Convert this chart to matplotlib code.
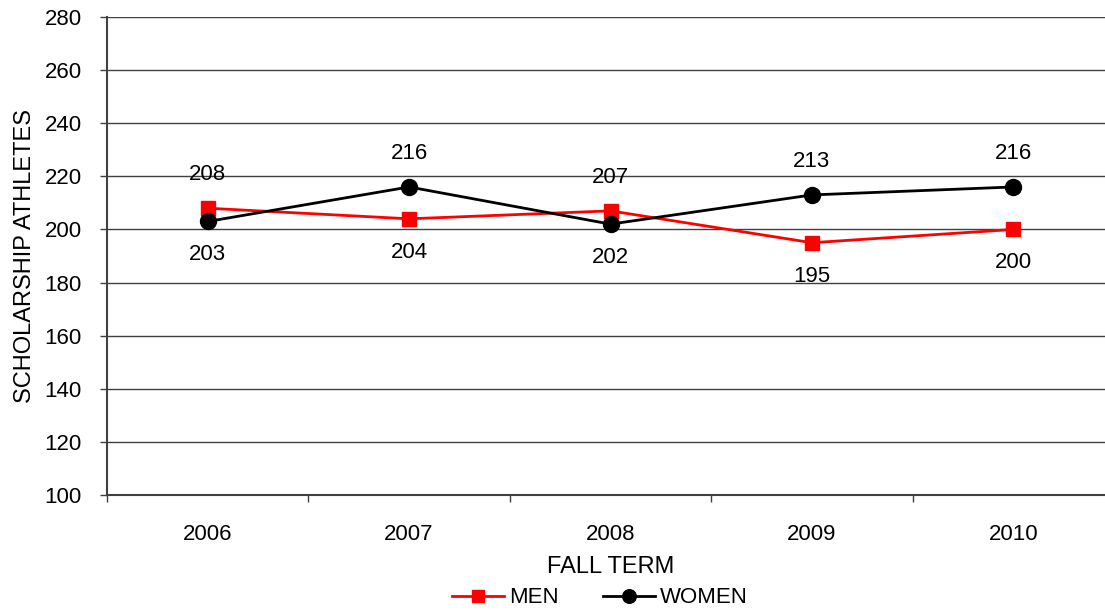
import matplotlib
matplotlib.use('Agg')
import matplotlib.pyplot as plt
import numpy as np

plt.rcParams['font.family'] = ['Liberation Sans', 'DejaVu Sans']

# data
years = ['2006', '2007', '2008', '2009', '2010']
men = [208, 204, 207, 195, 200]
women = [203, 216, 202, 213, 216]

fig = plt.figure(figsize=(11.05, 6.10), dpi=100)
# axes runs a bit past the right edge, like the original
ax = fig.add_axes([107 / 1105, 115 / 610, 1007 / 1105, 478 / 610])

x = np.arange(len(years))
ax.plot(x, men, color='#ff0000', lw=2, marker='s', ms=10.5, label='MEN', zorder=3)
ax.plot(x, women, color='black', lw=2, marker='o', ms=11.5, label='WOMEN', zorder=4)

# value labels: higher series above, lower series below
for i in range(len(years)):
    for v, other in ((men[i], women[i]), (women[i], men[i])):
        dy = 24 if v >= other else -24
        ax.annotate(str(v), (x[i], v), xytext=(0, dy), textcoords='offset points',
                    ha='center', va='center', fontsize=16)

ax.set_xlim(-0.5, 4.5)
ax.set_ylim(100, 280)
ax.set_yticks(np.arange(100, 281, 20))
ax.set_xticks(x)
ax.set_xticklabels(years)
ax.set_xticks(np.arange(-0.5, 4.6, 1), minor=True)
ax.tick_params(axis='x', which='major', length=0, pad=21, labelsize=16)
ax.tick_params(axis='x', which='minor', length=5, width=1, color='#404040')
ax.tick_params(axis='y', length=5, width=1, color='#404040', labelsize=16, pad=13)
ax.yaxis.grid(True, color='#404040', lw=1)
ax.set_axisbelow(True)

for s in ('top', 'right'):
    ax.spines[s].set_visible(False)
for s in ('left', 'bottom'):
    ax.spines[s].set_color('#404040')
    ax.spines[s].set_linewidth(1.5)

ax.set_xlabel('FALL TERM', fontsize=17, labelpad=8)
ax.set_ylabel('SCHOLARSHIP ATHLETES', fontsize=17, labelpad=6)

fig.legend(loc='lower center', bbox_to_anchor=(600 / 1105, -0.03), ncol=2, frameon=False,
           fontsize=16, handlelength=2.35, columnspacing=2.0, handletextpad=0.22,
           markerscale=0.85)

fig.savefig('out.png', dpi=100)
